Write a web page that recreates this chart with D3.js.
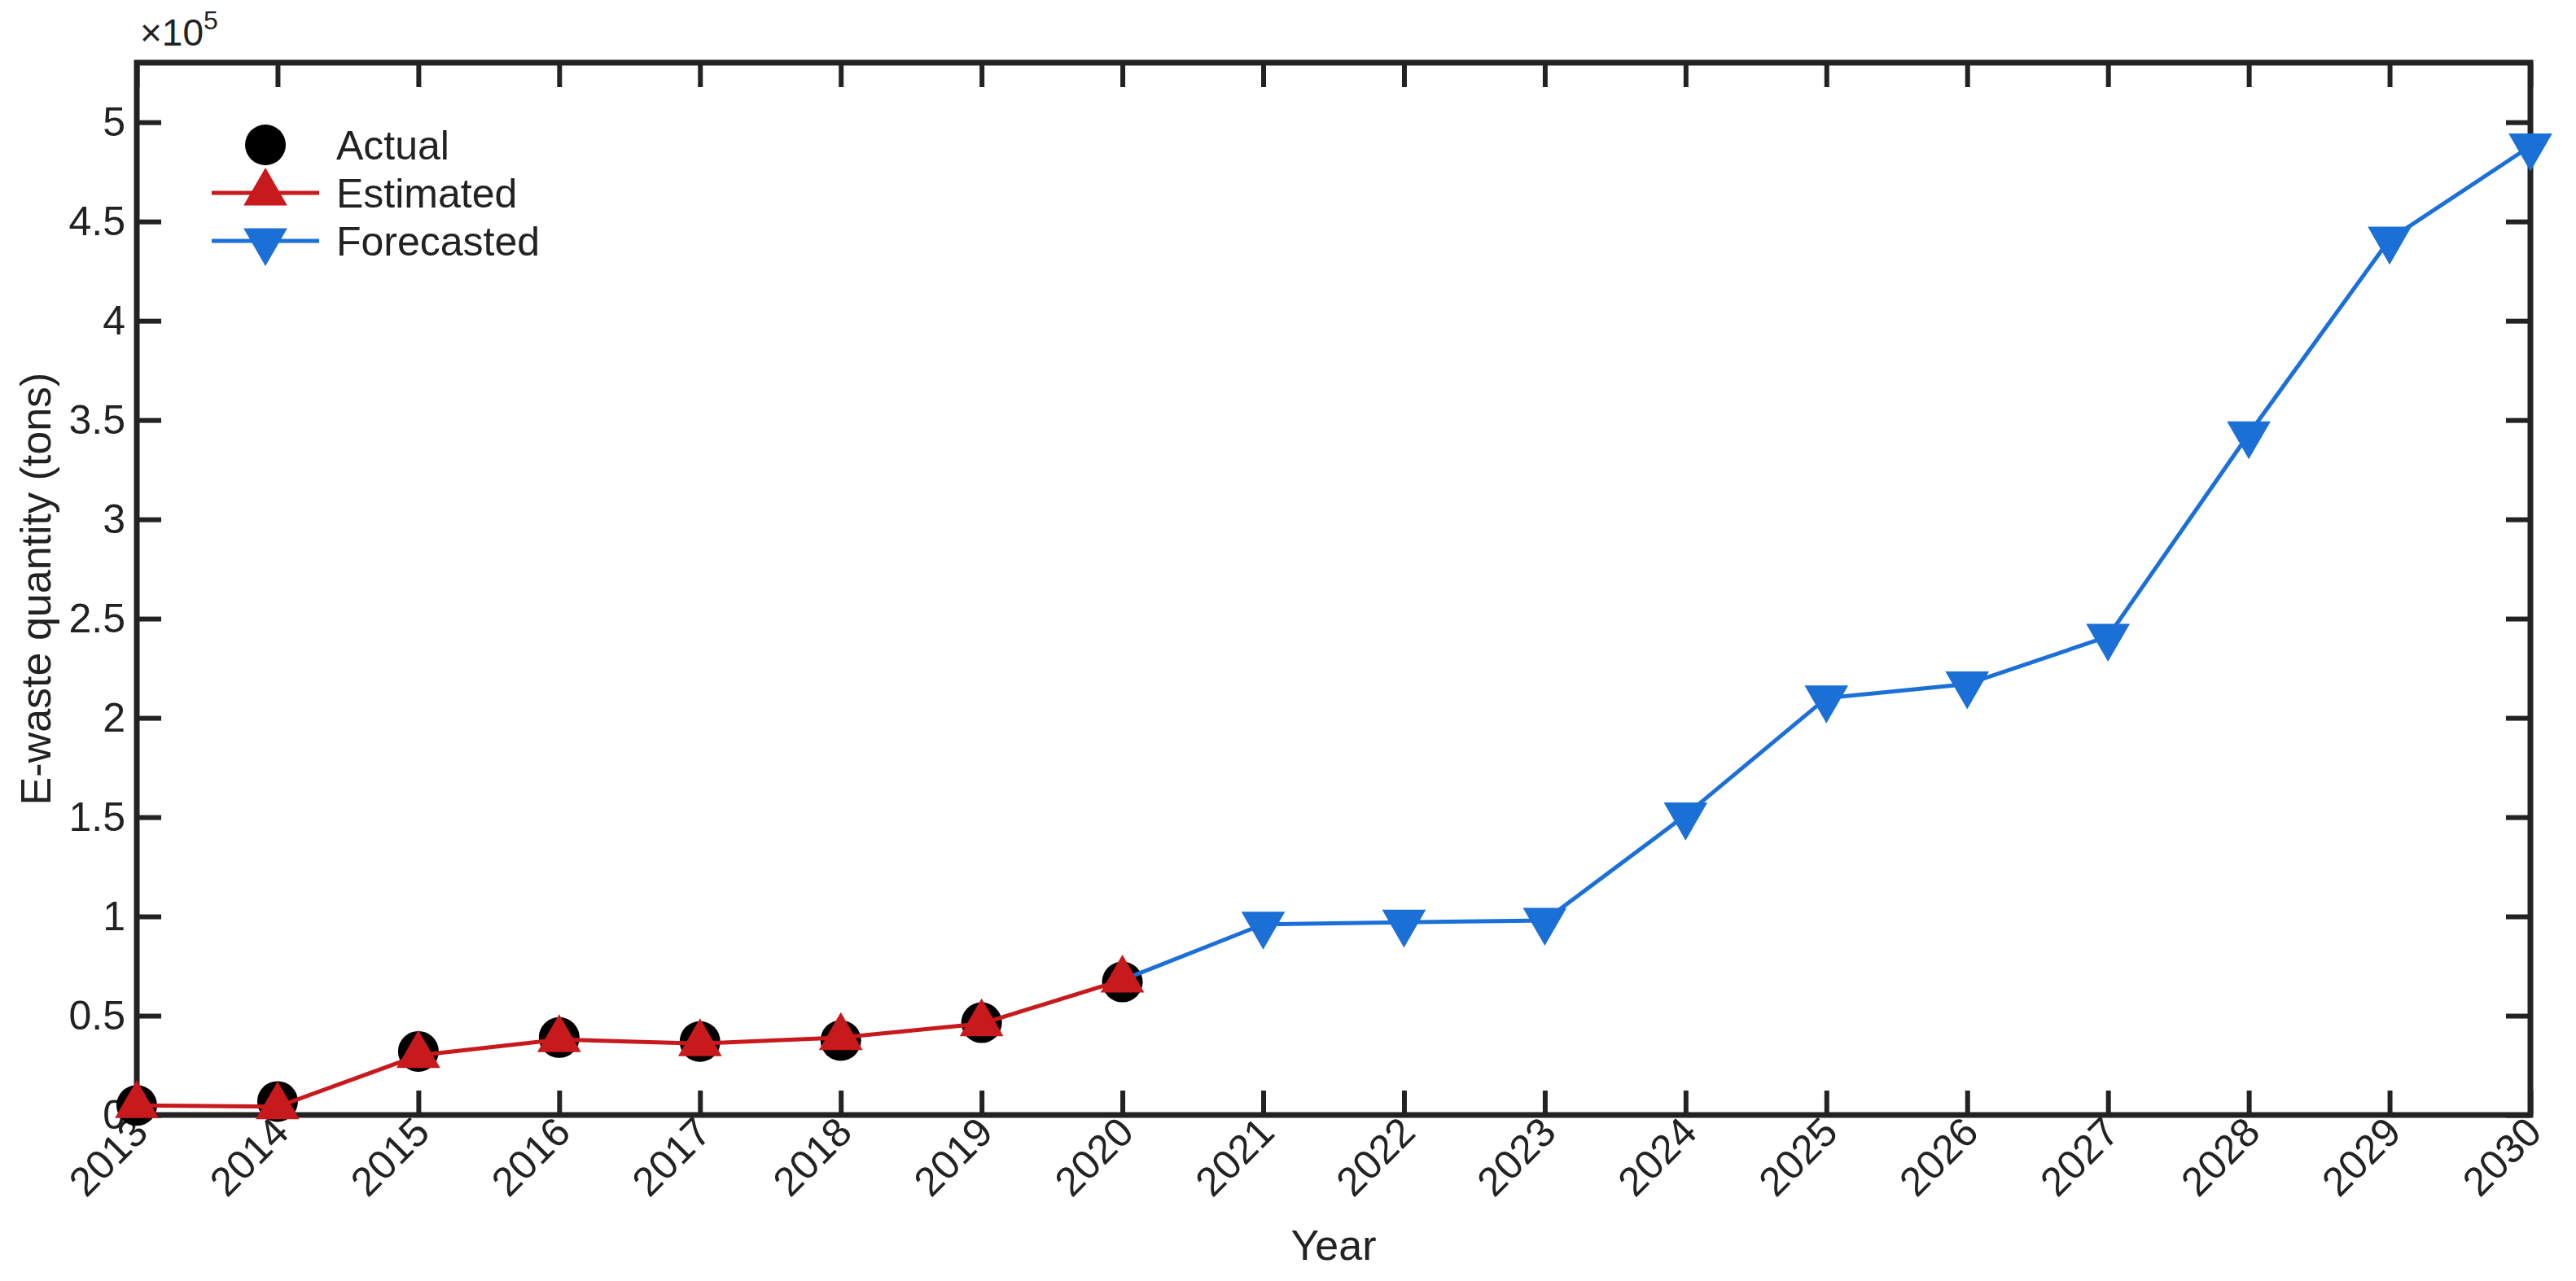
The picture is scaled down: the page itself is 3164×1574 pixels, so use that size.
<!DOCTYPE html>
<html lang="en">
<head>
<meta charset="utf-8">
<script src="https://cdn.jsdelivr.net/npm/d3@7"></script>
<style>
  body { margin: 0; background: #fff; }
  text { font-family: "Liberation Sans", Arial, sans-serif; fill: #222; }
</style>
</head>
<body>
<script>
// values in units of 1e5 tons
var years = d3.range(2013, 2031);
var actualYears = [2013, 2014, 2015, 2016, 2017, 2018, 2019, 2020];
var actual = [0.048, 0.068, 0.32, 0.39, 0.37, 0.375, 0.465, 0.67];
var estimated = [0.048, 0.042, 0.30, 0.38, 0.36, 0.39, 0.46, 0.68];
var forecastYears = [2020, 2021, 2022, 2023, 2024, 2025, 2026, 2027, 2028, 2029, 2030];
var forecast = [0.68, 0.96, 0.97, 0.98, 1.51, 2.10, 2.17, 2.41, 3.43, 4.41, 4.88];
var yTicks = [0, 0.5, 1, 1.5, 2, 2.5, 3, 3.5, 4, 4.5, 5];

var W = 3164, H = 1574;
var L = 168, T = 77, R = 3108, B = 1370;
var red = "#c8191c", blue = "#1b70d8";
var fs = 50;

var svg = d3.select("body").append("svg").attr("width", W).attr("height", H);
var x = d3.scaleLinear().domain([2013, 2030]).range([L, R]);
var y = d3.scaleLinear().domain([0, 5.3]).range([B, T]);

/** Axes **/
var tk = 30;
svg.append("g").attr("transform", "translate(0," + B + ")")
  .call(d3.axisBottom(x).tickValues(years).tickFormat(d3.format("d")).tickSizeInner(-tk).tickSizeOuter(0))
  .call(g => g.select(".domain").remove())
  .call(g => g.selectAll("line").attr("stroke", "#222").attr("stroke-width", 6))
  .call(g => g.selectAll("text").attr("font-size", fs).attr("text-anchor", "end")
    .attr("dy", null).attr("y", 0)
    .attr("transform", "translate(16,24) rotate(-45)"));
svg.append("g").attr("transform", "translate(0," + T + ")")
  .call(d3.axisTop(x).tickValues(years).tickFormat("").tickSizeInner(-tk).tickSizeOuter(0))
  .call(g => g.select(".domain").remove())
  .call(g => g.selectAll("line").attr("stroke", "#222").attr("stroke-width", 6));
svg.append("g").attr("transform", "translate(" + L + ",0)")
  .call(d3.axisLeft(y).tickValues(yTicks).tickFormat(d => d).tickSizeInner(-tk).tickSizeOuter(0).tickPadding(14))
  .call(g => g.select(".domain").remove())
  .call(g => g.selectAll("line").attr("stroke", "#222").attr("stroke-width", 6))
  .call(g => g.selectAll("text").attr("font-size", fs));
svg.append("g").attr("transform", "translate(" + R + ",0)")
  .call(d3.axisRight(y).tickValues(yTicks).tickFormat("").tickSizeInner(-tk).tickSizeOuter(0))
  .call(g => g.select(".domain").remove())
  .call(g => g.selectAll("line").attr("stroke", "#222").attr("stroke-width", 6));
svg.append("rect").attr("x", L).attr("y", T).attr("width", R - L).attr("height", B - T)
  .attr("fill", "none").attr("stroke", "#222").attr("stroke-width", 7);

/** Labels **/
svg.append("text").attr("x", (L + R) / 2).attr("y", 1548).attr("text-anchor", "middle")
  .attr("font-size", 52).text("Year");
svg.append("text").attr("transform", "translate(62," + (T + B) / 2 + ") rotate(-90)")
  .attr("text-anchor", "middle").attr("font-size", 52).text("E-waste quantity (tons)");
var ex = svg.append("text").attr("x", 172).attr("y", 56).attr("font-size", 46);
ex.append("tspan").text("×10");
ex.append("tspan").attr("font-size", 32).attr("dy", -20).text("5");

/** Series **/
var tri = d3.symbol().type(d3.symbolTriangle).size(1250);
var line = d3.line().x(d => x(d[0])).y(d => y(d[1]));

var act = d3.zip(actualYears, actual);
var est = d3.zip(actualYears, estimated);
var fc = d3.zip(forecastYears, forecast);

svg.selectAll(".act").data(act).enter().append("circle")
  .attr("cx", d => x(d[0])).attr("cy", d => y(d[1])).attr("r", 25).attr("fill", "#000");

svg.append("path").datum(fc).attr("d", line).attr("fill", "none").attr("stroke", blue).attr("stroke-width", 5);
svg.selectAll(".fc").data(fc.slice(1)).enter().append("path")
  .attr("d", tri).attr("fill", blue)
  .attr("transform", d => "translate(" + x(d[0]) + "," + y(d[1]) + ") rotate(180)");

svg.append("path").datum(est).attr("d", line).attr("fill", "none").attr("stroke", red).attr("stroke-width", 5);
svg.selectAll(".est").data(est).enter().append("path")
  .attr("d", tri).attr("fill", red)
  .attr("transform", d => "translate(" + x(d[0]) + "," + y(d[1]) + ")");

/** Legend **/
var lg = svg.append("g");
lg.append("circle").attr("cx", 326).attr("cy", 178).attr("r", 25).attr("fill", "#000");
lg.append("line").attr("x1", 260).attr("x2", 392).attr("y1", 237).attr("y2", 237).attr("stroke", red).attr("stroke-width", 5);
lg.append("path").attr("d", tri).attr("fill", red).attr("transform", "translate(326,237)");
lg.append("line").attr("x1", 260).attr("x2", 392).attr("y1", 296).attr("y2", 296).attr("stroke", blue).attr("stroke-width", 5);
lg.append("path").attr("d", tri).attr("fill", blue).attr("transform", "translate(326,296) rotate(180)");
lg.selectAll(".lt").data(["Actual", "Estimated", "Forecasted"]).enter().append("text")
  .attr("x", 413).attr("y", (d, i) => 178 + i * 59).attr("dy", "0.35em").attr("font-size", fs).text(d => d);
</script>
</body>
</html>
